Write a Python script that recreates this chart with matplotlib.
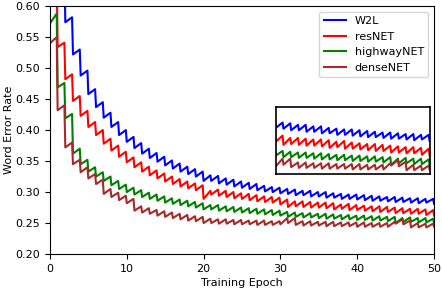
import matplotlib
matplotlib.use("Agg")
import matplotlib.pyplot as plt

# per-epoch values: trough = right after the drop at the start of the epoch,
# peak = just before the next drop (end of the epoch)
w2l_trough = [0.76, 0.655, 0.574, 0.522, 0.488, 0.458, 0.437, 0.420, 0.405, 0.392,
              0.381, 0.371, 0.362, 0.355, 0.349, 0.343, 0.338, 0.333, 0.329, 0.325,
              0.318, 0.318, 0.314, 0.312, 0.309, 0.307, 0.305, 0.303, 0.301, 0.300,
              0.298, 0.297, 0.295, 0.295, 0.293, 0.293, 0.291, 0.291, 0.289, 0.289,
              0.288, 0.287, 0.286, 0.286, 0.285, 0.284, 0.284, 0.283, 0.282, 0.283, 0.281]
w2l_peak = [0.77, 0.665, 0.582, 0.530, 0.496, 0.466, 0.445, 0.428, 0.413, 0.400,
            0.389, 0.379, 0.370, 0.363, 0.357, 0.351, 0.346, 0.341, 0.337, 0.333,
            0.327, 0.326, 0.322, 0.320, 0.317, 0.315, 0.313, 0.310, 0.308, 0.307,
            0.305, 0.304, 0.302, 0.302, 0.300, 0.300, 0.298, 0.297, 0.296, 0.296,
            0.295, 0.294, 0.293, 0.292, 0.292, 0.291, 0.290, 0.290, 0.289, 0.289]

res_trough = [0.64, 0.534, 0.482, 0.447, 0.423, 0.405, 0.392, 0.378, 0.367, 0.357,
              0.348, 0.340, 0.333, 0.327, 0.322, 0.317, 0.313, 0.309, 0.306, 0.303,
              0.289, 0.296, 0.294, 0.292, 0.290, 0.289, 0.287, 0.285, 0.284, 0.283,
              0.280, 0.276, 0.277, 0.276, 0.275, 0.275, 0.274, 0.272, 0.273, 0.271,
              0.271, 0.270, 0.269, 0.268, 0.268, 0.266, 0.266, 0.265, 0.265, 0.263, 0.262]
res_peak = [0.65, 0.541, 0.490, 0.455, 0.431, 0.413, 0.400, 0.386, 0.375, 0.365,
            0.356, 0.348, 0.341, 0.335, 0.330, 0.325, 0.321, 0.317, 0.314, 0.311,
            0.302, 0.304, 0.302, 0.300, 0.298, 0.297, 0.295, 0.293, 0.292, 0.291,
            0.288, 0.285, 0.285, 0.284, 0.283, 0.283, 0.282, 0.280, 0.281, 0.279,
            0.278, 0.277, 0.277, 0.276, 0.275, 0.274, 0.273, 0.273, 0.272, 0.271]

hw_trough = [0.572, 0.469, 0.419, 0.362, 0.345, 0.333, 0.325, 0.318, 0.311, 0.305,
             0.300, 0.296, 0.292, 0.289, 0.286, 0.283, 0.281, 0.279, 0.277, 0.275,
             0.272, 0.272, 0.270, 0.269, 0.268, 0.267, 0.266, 0.265, 0.264, 0.263,
             0.262, 0.260, 0.260, 0.259, 0.259, 0.258, 0.257, 0.257, 0.256, 0.256,
             0.255, 0.255, 0.254, 0.254, 0.253, 0.250, 0.252, 0.252, 0.251, 0.251, 0.250]
hw_peak = [0.588, 0.476, 0.426, 0.370, 0.352, 0.340, 0.332, 0.325, 0.318, 0.312,
           0.307, 0.303, 0.299, 0.296, 0.293, 0.290, 0.288, 0.286, 0.284, 0.282,
           0.279, 0.279, 0.277, 0.276, 0.275, 0.274, 0.273, 0.272, 0.271, 0.270,
           0.268, 0.267, 0.266, 0.266, 0.265, 0.265, 0.264, 0.263, 0.263, 0.262,
           0.262, 0.261, 0.261, 0.260, 0.260, 0.258, 0.259, 0.258, 0.258, 0.257]

dense_trough = [0.540, 0.432, 0.372, 0.345, 0.332, 0.322, 0.313, 0.297, 0.292, 0.287,
                0.282, 0.270, 0.267, 0.265, 0.262, 0.260, 0.258, 0.256, 0.254, 0.253,
                0.250, 0.250, 0.249, 0.249, 0.248, 0.248, 0.248, 0.247, 0.247, 0.247,
                0.248, 0.250, 0.247, 0.246, 0.246, 0.246, 0.245, 0.245, 0.245, 0.245,
                0.244, 0.244, 0.244, 0.244, 0.244, 0.249, 0.248, 0.243, 0.243, 0.243, 0.244]
dense_peak = [0.550, 0.440, 0.380, 0.352, 0.340, 0.329, 0.320, 0.305, 0.299, 0.294,
              0.289, 0.277, 0.274, 0.271, 0.269, 0.267, 0.265, 0.263, 0.261, 0.260,
              0.257, 0.256, 0.256, 0.255, 0.255, 0.254, 0.254, 0.254, 0.253, 0.253,
              0.258, 0.258, 0.253, 0.253, 0.252, 0.252, 0.252, 0.251, 0.251, 0.251,
              0.251, 0.250, 0.250, 0.250, 0.252, 0.256, 0.254, 0.250, 0.249, 0.249]

names = ['W2L', 'resNET', 'highwayNET', 'denseNET']
colors = ['blue', 'red', 'green', 'brown']
series = [(w2l_trough, w2l_peak), (res_trough, res_peak),
          (hw_trough, hw_peak), (dense_trough, dense_peak)]


def sawtooth(trough, peak):
    xs, ys = [], []
    for e in range(len(peak)):
        xs += [e, e + 0.88]
        ys += [trough[e], peak[e]]
    xs.append(len(peak))
    ys.append(trough[len(peak)])
    return xs, ys


fig = plt.figure(figsize=(4.42, 2.92), dpi=100)
ax = fig.add_axes([0.113, 0.130, 0.869, 0.849])
for (tr, pk), c, n in zip(series, colors, names):
    xs, ys = sawtooth(tr, pk)
    ax.plot(xs, ys, color=c, lw=1.5, label=n)

ax.set_xlim(0, 50)
ax.set_ylim(0.20, 0.60)
ax.set_xticks([0, 10, 20, 30, 40, 50])
ax.set_yticks([0.20, 0.25, 0.30, 0.35, 0.40, 0.45, 0.50, 0.55, 0.60])
ax.tick_params(labelsize=8)
ax.set_xlabel('Training Epoch', fontsize=8, labelpad=3)
ax.set_ylabel('Word Error Rate', fontsize=8, labelpad=1)
ax.legend(loc='upper right', fontsize=8)

# zoomed inset
ins = fig.add_axes([0.624, 0.404, 0.348, 0.229])
for (tr, pk), c in zip(series, colors):
    xs, ys = sawtooth(tr, pk)
    ins.plot(xs, ys, color=c, lw=1.5)
ins.set_xlim(30, 50)
ins.set_ylim(0.238, 0.325)
ins.set_xticks([])
ins.set_yticks([])
for s in ins.spines.values():
    s.set_linewidth(1.2)

fig.savefig('out.png', dpi=100)
